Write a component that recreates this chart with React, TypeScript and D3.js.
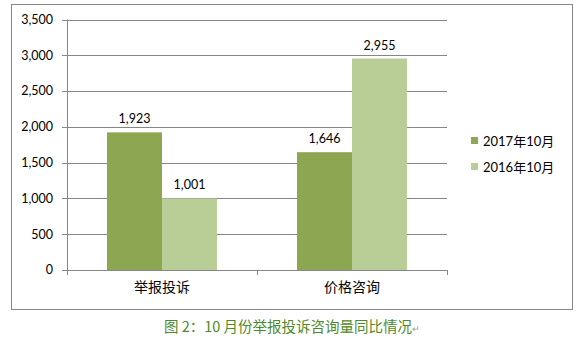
import React from "react";
import * as d3 from "d3";

const categories = ["举报投诉", "价格咨询"];
const seriesNames = ["2017年10月", "2016年10月"];
const values2017 = [1923, 1646];
const values2016 = [1001, 2955];
const yTicks = [0, 500, 1000, 1500, 2000, 2500, 3000, 3500];
const caption = "图 2：10 月份举报投诉咨询量同比情况";

const colors = ["#8CA652", "#B9CE96"];
const FONT = "Lato, 'Noto Sans CJK SC', sans-serif";
const CJK = "'Noto Sans CJK SC', sans-serif";

export default function App() {
  const W = 584, H = 340;
  const left = 67, right = 447, top = 19.5, bottom = 270;
  const x = d3.scaleBand<string>().domain(categories).range([left, right]).paddingInner(0).paddingOuter(0);
  const inner = d3.scaleBand<number>().domain([0, 1]).range([0, x.bandwidth()]).paddingInner(0).paddingOuter(0.727);
  const y = d3.scaleLinear().domain([0, 3500]).range([bottom, top]);
  const series = [values2017, values2016];
  const fmt = d3.format(",");

  return (
    <svg width={W} height={H} style={{ position: "fixed", left: 0, top: 0, background: "#fff" }}>
      <rect x={11.5} y={4.5} width={561} height={305} fill="#fff" stroke="#878787" strokeWidth={1} />
      {yTicks.map((t) => (
        <g key={t}>
          <line x1={left - 5} x2={right} y1={Math.round(y(t)) + 0.5} y2={Math.round(y(t)) + 0.5} stroke="#868686" strokeWidth={1} />
          <text x={53} y={y(t)} dy="0.35em" textAnchor="end" fontFamily={FONT} fontSize={12.5} fill="#000">
            {fmt(t)}
          </text>
        </g>
      ))}
      <line x1={left + 0.5} x2={left + 0.5} y1={top} y2={bottom + 5} stroke="#868686" />
      {[left, left + x.bandwidth(), right].map((tx, i) => (
        <line key={i} x1={Math.round(tx) + 0.5} x2={Math.round(tx) + 0.5} y1={bottom} y2={bottom + 5} stroke="#868686" />
      ))}
      {categories.map((c, ci) => (
        <g key={c}>
          {series.map((vals, si) => {
            const bx = (x(c) as number) + (inner(si) as number);
            const bw = inner.bandwidth();
            return (
              <g key={si}>
                <rect x={bx} y={y(vals[ci])} width={bw} height={bottom - y(vals[ci])} fill={colors[si]} />
                <text x={bx + bw / 2} y={y(vals[ci]) - 9} textAnchor="middle" fontFamily={FONT} fontSize={12.5} fill="#000">
                  {fmt(vals[ci])}
                </text>
              </g>
            );
          })}
          <text x={(x(c) as number) + x.bandwidth() / 2} y={292} textAnchor="middle" fontFamily={CJK} fontSize={14} fill="#000">
            {c}
          </text>
        </g>
      ))}
      <line x1={left} x2={right} y1={bottom + 0.5} y2={bottom + 0.5} stroke="#868686" />
      {seriesNames.map((s, i) => (
        <g key={s}>
          <rect x={471} y={137 + i * 26} width={7} height={7} fill={colors[i]} />
          <text x={483} y={141 + i * 26} dy="0.35em" fontFamily={FONT} fontSize={13} fill="#000">
            {s}
          </text>
        </g>
      ))}
      <text x={292} y={332} textAnchor="middle" fontFamily={CJK} fontSize={14.5} fill="#4F8A2A">
        {caption}
        <tspan fill="#999" fontSize={9}>↵</tspan>
      </text>
    </svg>
  );
}
